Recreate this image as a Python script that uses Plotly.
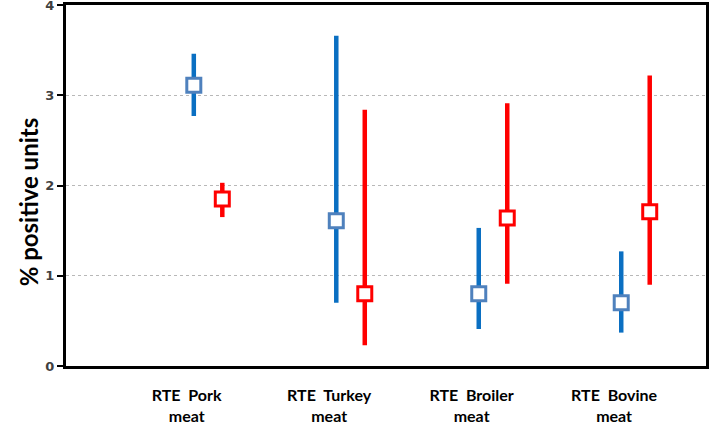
import plotly.graph_objects as go

# categories and values
categories = ["RTE\u00a0\u00a0Pork<br>meat", "RTE\u00a0\u00a0Turkey<br>meat",
              "RTE\u00a0\u00a0Broiler<br>meat", "RTE\u00a0\u00a0Bovine<br>meat"]
blue_mid = [3.11, 1.61, 0.80, 0.70]
blue_low = [2.77, 0.70, 0.41, 0.37]
blue_high = [3.46, 3.66, 1.53, 1.27]
red_mid = [1.85, 0.80, 1.64, 1.71]
red_low = [1.65, 0.23, 0.91, 0.90]
red_high = [2.03, 2.84, 2.91, 3.22]

pos = [1, 2, 3, 4]
blue_x = [p + 0.05 for p in pos]
red_x = [p + 0.25 for p in pos]

fig = go.Figure()

def add_series(xs, mid, low, high, line_col, mark_col):
    fig.add_trace(go.Scatter(
        x=xs, y=mid, mode="markers",
        marker=dict(symbol="square", size=14, color="white",
                    line=dict(color=mark_col, width=3)),
        error_y=dict(type="data", symmetric=False,
                     array=[h - m for h, m in zip(high, mid)],
                     arrayminus=[m - l for m, l in zip(mid, low)],
                     color=line_col, thickness=4.5, width=0),
        showlegend=False,
    ))

add_series(blue_x, blue_mid, blue_low, blue_high, "#0a6fc2", "#4f81bd")
add_series(red_x, red_mid, red_low, red_high, "#ff0000", "#ff0000")

# y axis title placed as an annotation (it sits a little below the middle)
fig.add_annotation(
    text="% positive units", textangle=-90,
    xref="paper", yref="paper", x=-0.059, y=0.454,
    xanchor="center", yanchor="middle", showarrow=False,
    font=dict(family="Lato", size=24, color="black", weight="bold"),
)

fig.update_layout(
    width=709, height=430,
    margin=dict(l=66, r=3, t=5, b=64),
    plot_bgcolor="white", paper_bgcolor="white",
    xaxis=dict(
        range=[0.153, 4.645], automargin=False,
        tickvals=pos, ticktext=categories,
        showgrid=False, zeroline=False,
        showline=True, linecolor="black", linewidth=3, mirror=True,
        ticks="", ticklabelstandoff=13,
        tickfont=dict(family="Lato", size=16, color="black", weight="bold"),
    ),
    yaxis=dict(
        range=[0, 4], dtick=1, automargin=False,
        showgrid=True, gridcolor="#b8b8b8", griddash="3px,3px", gridwidth=1,
        zeroline=False,
        showline=True, linecolor="black", linewidth=3, mirror=True,
        ticks="outside", ticklen=6, tickcolor="black", tickwidth=2,
        ticklabelstandoff=0, ticklabeloverflow="allow",
        tickfont=dict(family="DejaVu Sans", size=13, color="#404040", weight="bold"),
    ),
)

fig.write_html("out.html", config={"displayModeBar": False},
               post_script="document.body.style.margin='0';")
